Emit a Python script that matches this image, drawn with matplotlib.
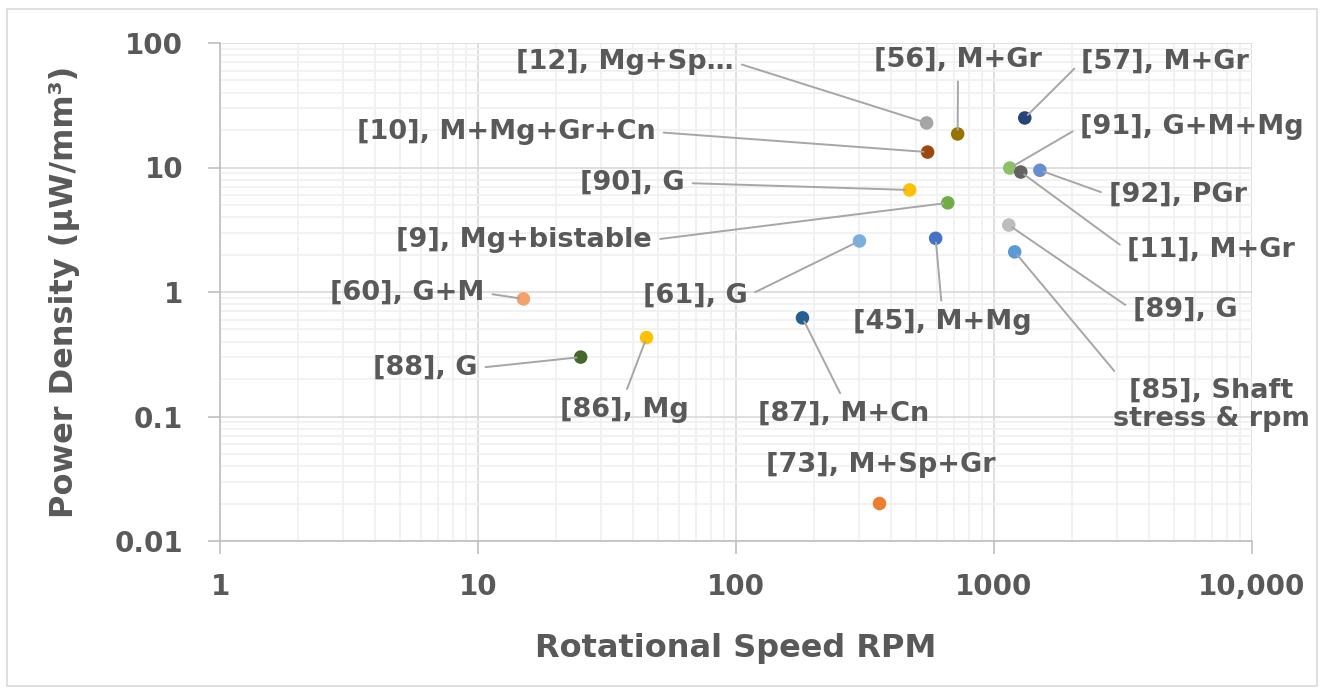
import matplotlib.pyplot as plt
from matplotlib.patches import Rectangle
from matplotlib.ticker import FixedLocator, FixedFormatter, LogLocator, NullFormatter

# data
labels = ["[12], Mg+Sp…", "[56], M+Gr", "[57], M+Gr", "[10], M+Mg+Gr+Cn",
          "[91], G+M+Mg", "[11], M+Gr", "[92], PGr", "[90], G",
          "[9], Mg+bistable", "[61], G", "[45], M+Mg", "[89], G",
          "[85], Shaft\nstress & rpm", "[60], G+M", "[88], G", "[86], Mg",
          "[87], M+Cn", "[73], M+Sp+Gr"]
rpm = [548, 723, 1316, 553, 1151, 1270, 1506, 471, 662, 301, 594, 1141,
       1203, 15, 25, 45, 181, 360]
power = [22.8, 18.6, 25, 13.3, 9.9, 9.2, 9.5, 6.6, 5.2, 2.57, 2.7, 3.45,
         2.1, 0.88, 0.30, 0.43, 0.62, 0.02]
colors = ["#A5A5A5", "#997300", "#264478", "#9E480E", "#8CC168", "#636363",
          "#698ED0", "#FFC000", "#70AD47", "#7CAFDD", "#4472C4", "#BDBDBD",
          "#5B9BD5", "#F4A16C", "#43682B", "#FFC000", "#255E91", "#ED7D31"]

x_ticks = [1, 10, 100, 1000, 10000]
x_tick_labels = ["1", "10", "100", "1000", "10,000"]
y_ticks = [0.01, 0.1, 1, 10, 100]
y_tick_labels = ["0.01", "0.1", "1", "10", "100"]

# label centres in pixels (from top-left) and where the leader line leaves the text
W, H = 1325, 693
label_px = [(625, 62), (958, 60), (1165, 62), (506, 132), (1192, 127),
            (1211, 250), (1178, 195), (632, 183), (524, 240), (695, 296),
            (942, 322), (1185, 310), (1211, 405), (407, 293), (425, 368),
            (624, 410), (844, 414), (881, 465)]
relpos = [(1, 0.5), (0.5, 0), (0, 0.5), (1, 0.5), (0, 0.5), (0, 0.5),
          (0, 0.5), (1, 0.5), (1, 0.5), (1, 0.5), (0.5, 1), (0, 0.5),
          (0.05, 0.95), (1, 0.5), (1, 0.5), (0.5, 1), (0.5, 1), None]

TEXT = "#595959"
plt.rcParams['font.family'] = ['DejaVu Sans']

fig = plt.figure(figsize=(W / 100, H / 100), dpi=100)
fig.patches.append(Rectangle((7 / W, 7 / H), 1 - 15 / W, 1 - 16 / H,
                             transform=fig.transFigure, fill=False,
                             edgecolor="#D9D9D9", linewidth=1.2))
ax = fig.add_axes([220 / W, 1 - 541 / H, 1032 / W, 498 / H])

ax.scatter(rpm, power, s=95, c=colors, zorder=3, linewidths=0)

for lab, x, y, (px, py), rp in zip(labels, rpm, power, label_px, relpos):
    kw = dict(xy=(x, y), xytext=(px / W, 1 - py / H), textcoords='figure fraction',
              ha='center', va='center', fontsize=19.5, fontweight='bold',
              color=TEXT, linespacing=1.1, zorder=4)
    if rp is not None:
        kw['arrowprops'] = dict(arrowstyle='-', color='#A6A6A6', lw=1.4,
                                relpos=rp, shrinkA=4, shrinkB=3)
    ax.annotate(lab, **kw)

ax.set_xscale('log')
ax.set_yscale('log')
ax.set_xlim(1, 10000)
ax.set_ylim(0.01, 100)

ax.xaxis.set_major_locator(FixedLocator(x_ticks))
ax.xaxis.set_major_formatter(FixedFormatter(x_tick_labels))
ax.yaxis.set_major_locator(FixedLocator(y_ticks))
ax.yaxis.set_major_formatter(FixedFormatter(y_tick_labels))
for axis in (ax.xaxis, ax.yaxis):
    axis.set_minor_locator(LogLocator(base=10, subs=range(2, 10)))
    axis.set_minor_formatter(NullFormatter())

ax.grid(True, which='major', color='#D9D9D9', linewidth=1.2, zorder=0)
ax.grid(True, which='minor', color='#F0F0F0', linewidth=1.2, zorder=0)
ax.set_axisbelow(True)

for side in ('top', 'right'):
    ax.spines[side].set_visible(False)
for side in ('left', 'bottom'):
    ax.spines[side].set_color('#BFBFBF')
    ax.spines[side].set_linewidth(1.2)

ax.tick_params(which='major', direction='out', length=9, width=1.2,
               color='#BFBFBF', labelsize=20, labelcolor=TEXT)
ax.tick_params(axis='x', which='major', pad=14)
ax.tick_params(axis='y', which='major', pad=18)
ax.tick_params(which='minor', length=0)
for t in ax.get_xticklabels() + ax.get_yticklabels():
    t.set_fontweight('bold')

ax.set_xlabel('Rotational Speed RPM', fontsize=23, fontweight='bold',
              color=TEXT, va='center')
ax.set_ylabel('Power Density (µW/mm³)', fontsize=23, fontweight='bold',
              color=TEXT, va='center')
ax.xaxis.set_label_coords(0.5, (541 - 648) / 498)
ax.yaxis.set_label_coords((65 - 220) / 1032, 0.5)

# make the y tick labels end at the same place as in the reference (x = 183 px)
fig.canvas.draw()
renderer = fig.canvas.get_renderer()
right_edge = max(t.get_window_extent(renderer).x1 for t in ax.get_yticklabels()
                 if t.get_text())
ax.tick_params(axis='y', which='major', pad=18 + (right_edge - 183) * 72 / 100)
for t in ax.get_yticklabels():
    t.set_fontweight('bold')

fig.savefig('out.png', dpi=100)
